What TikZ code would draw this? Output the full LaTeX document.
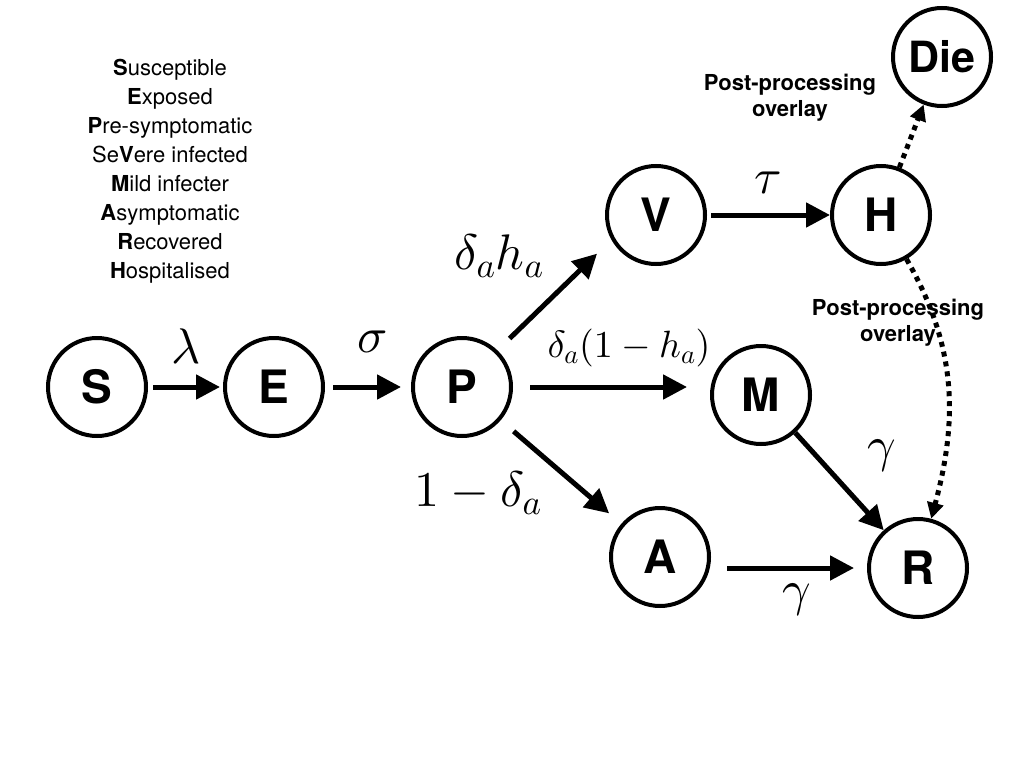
\documentclass[tikz,border=0pt]{standalone}
\usepackage[no-math]{fontspec}
\setmainfont{TeX Gyre Heros}
\DeclareFontShape{OT1}{cmr}{m}{n}{<->cmr10}{}
\DeclareFontShape{OML}{cmm}{m}{it}{<->cmmi10}{}
\DeclareFontShape{OMS}{cmsy}{m}{n}{<->cmsy10}{}
\usetikzlibrary{arrows.meta}
\tikzset{
  state/.style={circle, draw, line width=4pt, minimum size=98pt, inner sep=0pt, font=\fontsize{46}{46}\selectfont\bfseries},
  flow/.style={line width=5pt, -{Triangle[length=24pt,width=24pt]}},
  postflow/.style={line width=5pt, dash pattern=on 5pt off 5pt, -{Triangle[length=16pt,width=16pt]}},
  rate/.style={inner sep=0pt, font=\fontsize{50}{50}\selectfont},
  note/.style={align=center, inner sep=0pt, font=\fontsize{22}{26}\selectfont\bfseries}
}
\begin{document}
\begin{tikzpicture}[x=1pt, y=-1pt]
\useasboundingbox (0,0) rectangle (1024,768);
\node [align=center, anchor=north, inner sep=0pt, font=\fontsize{22}{29}\selectfont] (key) at (170,59)
  {\textbf{S}usceptible\\ \textbf{E}xposed\\ \textbf{P}re-symptomatic\\ Se\textbf{V}ere infected\\
   \textbf{M}ild infecter\\ \textbf{A}symptomatic\\ \textbf{R}ecovered\\ \textbf{H}ospitalised};
\node [state] (S) at (97,387) {S};
\node [state] (E) at (274,387) {E};
\node [state] (P) at (462,387) {P};
\node [state] (V) at (656,215) {V};
\node [state] (H) at (881,215) {H};
\node [state, font=\fontsize{43}{43}\selectfont\bfseries] (Die) at (942,57) {Die};
\node [state] (M) at (761,395) {M};
\node [state] (A) at (660,557) {A};
\node [state] (R) at (918,568) {R};
\draw [flow, shorten <=5pt, shorten >=3pt] (S) -- (E);
\draw [flow, shorten <=8pt, shorten >=10pt] (E) -- (P);
\draw [flow, shorten <=17pt, shorten >=20pt] (P.46) -- (V.209);
\draw [flow, shorten <=17pt, shorten >=23pt] (P.east) -- (P.east -| M.west);
\draw [flow, shorten <=17pt, shorten >=16pt] (P) -- (A);
\draw [flow, shorten <=4pt] (V) -- (H);
\draw [flow] (M) -- (R);
\draw [flow, shorten <=16pt, shorten >=13pt] (R.west -| A.east) -- (R.west);
\draw [postflow] (H) -- (Die);
\draw [postflow] (H) to [out=-60, in=75] (R);
\node [rate] (lam) at (186,346) {$\lambda$};
\node [rate] (sig) at (373,342) {$\sigma$};
\node [rate] (sev) at (499,256) {$\delta_a h_a$};
\node [rate, font=\fontsize{38}{38}\selectfont] (mild) at (629,348) {$\delta_a(1-h_a)$};
\node [rate] (asym) at (478,493) {$1-\delta_a$};
\node [rate] (tau) at (768,183) {$\tau$};
\node [rate] (gamM) at (882,456) {$\gamma$};
\node [rate] (gamA) at (797,600) {$\gamma$};
\node [note] (die note) at (790,98) {Post-processing\\ overlay};
\node [note] (rec note) at (898,323) {Post-processing\\ overlay};
\end{tikzpicture}
\end{document}
